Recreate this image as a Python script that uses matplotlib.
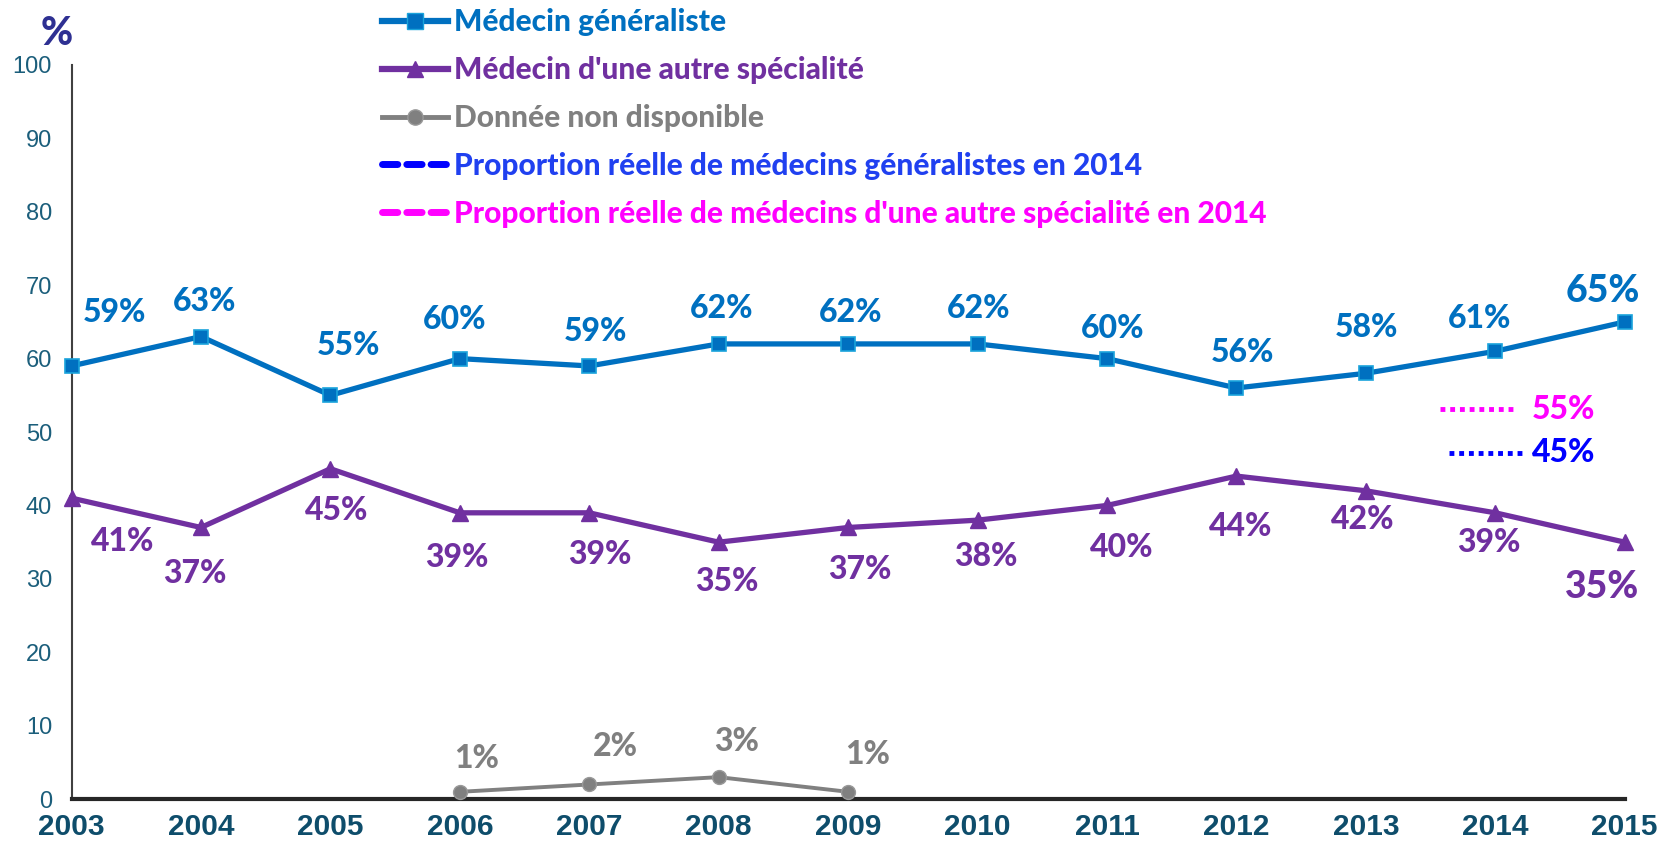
import matplotlib
matplotlib.use("Agg")
import matplotlib.pyplot as plt
from matplotlib.lines import Line2D

years = list(range(2003, 2016))
gp = [59, 63, 55, 60, 59, 62, 62, 62, 60, 56, 58, 61, 65]
other = [41, 37, 45, 39, 39, 35, 37, 38, 40, 44, 42, 39, 35]
na_years = [2006, 2007, 2008, 2009]
na = [1, 2, 3, 1]
real_gp_2014 = 45
real_other_2014 = 55
y_ticks = [0, 10, 20, 30, 40, 50, 60, 70, 80, 90, 100]

legend_labels = ["Médecin généraliste", "Médecin d'une autre spécialité",
                 "Donnée non disponible",
                 "Proportion réelle de médecins généralistes en 2014",
                 "Proportion réelle de médecins d'une autre spécialité en 2014"]

C_GP = "#0070C0"
C_OT = "#7030A0"
C_NA = "#808080"
C_BL = "#0000FF"
C_MG = "#FF00FF"

LBL = ["Lato", "DejaVu Sans"]
W = "black"
K = 1.068 * 0.72  # ref px -> points

fig = plt.figure(figsize=(16.75, 8.43), dpi=100)
ax = fig.add_axes([0.0427, 0.052, 0.9273, 0.871])
ax.set_xlim(2003, 2015)
ax.set_ylim(0, 100)

ax.plot(years, gp, color=C_GP, lw=3.8, marker="s", ms=10.5, mfc=C_GP,
        mec="#1AA3DB", mew=1.2, clip_on=False, zorder=4)
ax.plot(years, other, color=C_OT, lw=3.8, marker="^", ms=11, mfc=C_OT,
        mec=C_OT, clip_on=False, zorder=4)
ax.plot(na_years, na, color=C_NA, lw=2.8, marker="o", ms=10, mfc=C_NA,
        mec="#999999", clip_on=False, zorder=4)

gp_off = [(40, 50), (3, 33), (17, 47), (-5, 37), (6, 32), (3, 33), (2, 29),
          (1, 33), (5, 28), (6, 33), (1, 43), (-15, 31), (-21, 29)]
ot_off = [(48, -41), (-6, -43), (6, -39), (-3, -42), (10, -39), (8, -37),
          (11, -39), (8, -34), (14, -39), (4, -47), (-3, -27), (-6, -28),
          (-21, -42)]
na_off = [(16, 31), (24, 36), (17, 33), (18, 35)]

FS = 23
FS_BIG = 27
for i, (x, v) in enumerate(zip(years, gp)):
    dx, dy = gp_off[i]
    ax.annotate(f"{v}%", (x, v), xytext=(dx * K, dy * K), textcoords="offset points",
                ha="center", va="center", color=C_GP, fontweight=W,
                family=LBL, fontsize=FS_BIG if x == 2015 else FS, zorder=5)
for i, (x, v) in enumerate(zip(years, other)):
    dx, dy = ot_off[i]
    ax.annotate(f"{v}%", (x, v), xytext=(dx * K, dy * K), textcoords="offset points",
                ha="center", va="center", color=C_OT, fontweight=W,
                family=LBL, fontsize=FS_BIG if x == 2015 else FS, zorder=5)
for i, (x, v) in enumerate(zip(na_years, na)):
    dx, dy = na_off[i]
    ax.annotate(f"{v}%", (x, v), xytext=(dx * K, dy * K), textcoords="offset points",
                ha="center", va="center", color=C_NA, fontweight=W,
                family=LBL, fontsize=FS, zorder=5)

# real 2014 proportions (dotted markers at the right)
ax.plot([2013.57, 2014.16], [53.1, 53.1], color=C_MG, lw=3.5, ls=(0, (1, 1)),
        solid_capstyle="butt", dash_capstyle="butt")
ax.plot([2013.64, 2014.22], [47.2, 47.2], color=C_BL, lw=3.5, ls=(0, (1, 1)),
        solid_capstyle="butt", dash_capstyle="butt")
ax.text(2014.28, 53.1, f"{real_other_2014}%", color=C_MG, fontweight=W,
        family=LBL, fontsize=FS, va="center", ha="left")
ax.text(2014.28, 47.2, f"{real_gp_2014}%", color=C_BL, fontweight=W,
        family=LBL, fontsize=FS, va="center", ha="left")

# axes styling
for s in ["top", "right"]:
    ax.spines[s].set_visible(False)
ax.spines["left"].set_color("#404040")
ax.spines["left"].set_linewidth(1.5)
ax.spines["bottom"].set_color("#262626")
ax.spines["bottom"].set_linewidth(3)
ax.set_yticks(y_ticks)
ax.set_yticklabels([str(t) for t in y_ticks], family="Liberation Sans",
                   fontsize=17, color="#1B5E7B")
ax.set_xticks(years)
ax.set_xticklabels([str(y) for y in years], family="Liberation Sans",
                   fontsize=21.5, fontweight="bold", color="#0E4D6B")
ax.tick_params(axis="both", length=0)
ax.tick_params(axis="y", pad=14)
ax.tick_params(axis="x", pad=10)

fig.text(0.034, 0.960, "%", color="#2E3092", fontweight=W,
         family=LBL, fontsize=28, ha="center", va="center")

handles = [
    Line2D([], [], color=C_GP, lw=4.5, marker="s", ms=11, mfc=C_GP, mec="#1AA3DB"),
    Line2D([], [], color=C_OT, lw=4.5, marker="^", ms=11, mfc=C_OT, mec=C_OT),
    Line2D([], [], color=C_NA, lw=3.5, marker="o", ms=11, mfc=C_NA, mec="#999999"),
    Line2D([], [], color=C_BL, lw=5, ls=(0, (2.2, 1.3)), solid_capstyle="round",
           dash_capstyle="round"),
    Line2D([], [], color=C_MG, lw=5, ls=(0, (2.2, 1.3)), solid_capstyle="round",
           dash_capstyle="round"),
]
leg = fig.legend(handles, legend_labels, loc="upper left",
                 bbox_to_anchor=(0.212, 1.022), frameon=False,
                 handlelength=2.2, handletextpad=0.22, labelspacing=0.665,
                 prop={"family": LBL, "weight": W, "size": 21.5},
                 labelcolor=[C_GP, C_OT, C_NA, "#2040F0", C_MG])

fig.savefig("out.png", dpi=100)
